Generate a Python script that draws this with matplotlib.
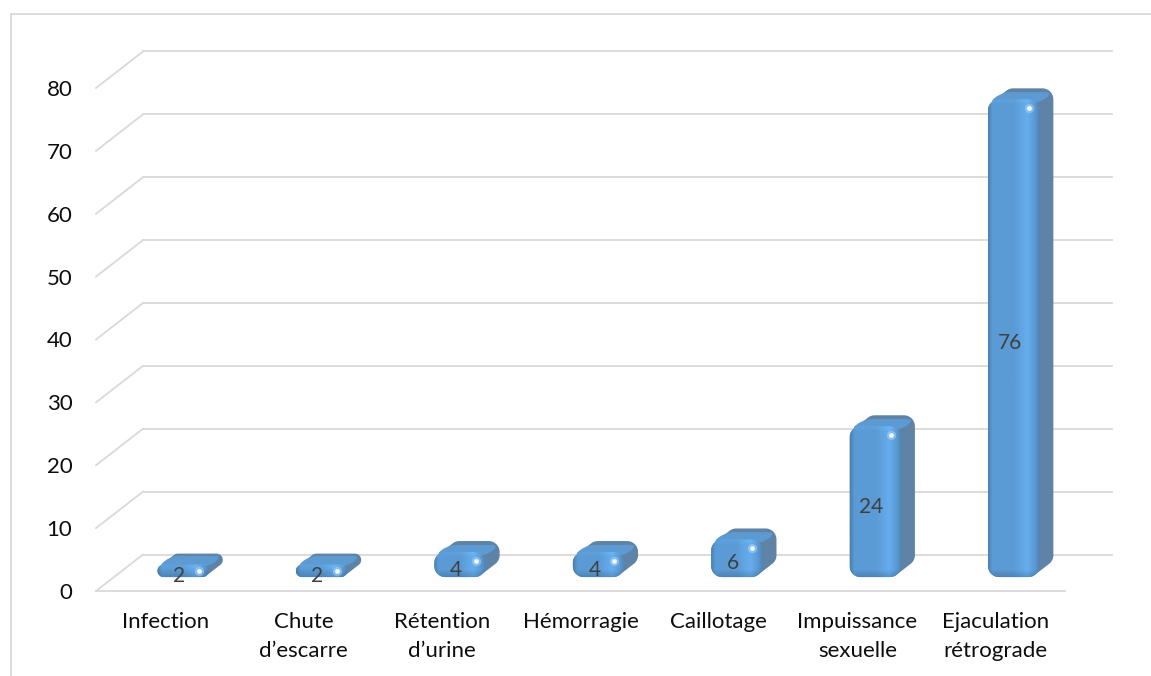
import numpy as np
import matplotlib.pyplot as plt
from matplotlib.patches import Polygon
from matplotlib.lines import Line2D
from matplotlib.colors import to_rgb

# Complications (%)
categories = ["Infection", "Chute\nd’escarre", "Rétention\nd’urine", "Hémorragie",
              "Caillotage", "Impuissance\nsexuelle", "Ejaculation\nrétrograde"]
values = [2, 2, 4, 4, 6, 24, 76]
y_ticks = [0, 10, 20, 30, 40, 50, 60, 70, 80]

plt.rcParams['font.family'] = ['Lato', 'DejaVu Sans']

W_PX, H_PX, DPI = 1151, 676, 100
fig = plt.figure(figsize=(W_PX / DPI, H_PX / DPI), dpi=DPI)

# front plane of the pseudo 3D plot, in pixels
left, right, bottom, top = 96, 1065, 591, 88
ax = fig.add_axes([left / W_PX, 1 - bottom / H_PX,
                   (right - left) / W_PX, (bottom - top) / H_PX])
n = len(categories)
ax.set_xlim(-0.5, n - 0.5)
ax.set_ylim(0, 80)
ax.patch.set_alpha(0)
for s in ax.spines.values():
    s.set_visible(False)

SX = (right - left) / n        # px per category
SY = (bottom - top) / 80       # px per unit
DEPTH_PX = np.hypot(47, 36.5)
DX = 47 / SX                   # depth offset, data units
DY = 36.5 / SY

grid_col = "#d9d9d9"
# back wall + left wall gridlines
for v in y_ticks:
    ax.plot([-0.5 + DX, n - 0.5 + DX], [v + DY, v + DY], color=grid_col, lw=1.3,
            clip_on=False, zorder=1)
    ax.plot([-0.5, -0.5 + DX], [v, v + DY], color=grid_col, lw=1.3, clip_on=False, zorder=1)
# floor front edge
ax.plot([-0.5, n - 0.5], [0, 0], color=grid_col, lw=1.3, clip_on=False, zorder=1)

ax.set_xticks(range(n), categories)
ax.set_yticks(y_ticks)
ax.tick_params(length=0, labelsize=16, colors="#0d0d0d")
ax.tick_params(axis="x", pad=15)
ax.tick_params(axis="y", pad=17)
for lab in ax.get_xticklabels():
    lab.set_linespacing(1.6)

# chart border
fig.add_artist(Line2D([11 / W_PX, 11 / W_PX], [0, 1 - 14 / H_PX], color=grid_col, lw=1.3))
fig.add_artist(Line2D([11 / W_PX, 1], [1 - 14 / H_PX, 1 - 14 / H_PX], color=grid_col, lw=1.3))


def rounded_pts(w, h, r, k=12):
    r = min(r, w / 2, h / 2)
    pts = []
    for cx, cy, a0 in [(w - r, h - r, 0), (r, h - r, 90), (r, r, 180), (w - r, r, 270)]:
        for t in np.radians(np.linspace(a0, a0 + 90, k)):
            pts.append((cx + r * np.cos(t), cy + r * np.sin(t)))
    return np.array(pts)


def hull(points):
    pts = sorted(map(tuple, points))

    def cross(o, a, b):
        return (a[0] - o[0]) * (b[1] - o[1]) - (a[1] - o[1]) * (b[0] - o[0])
    lower, upper = [], []
    for p in pts:
        while len(lower) >= 2 and cross(lower[-2], lower[-1], p) <= 0:
            lower.pop()
        lower.append(p)
    for p in reversed(pts):
        while len(upper) >= 2 and cross(upper[-2], upper[-1], p) <= 0:
            upper.pop()
        upper.append(p)
    return np.array(lower[:-1] + upper[:-1])


front_col = np.array(to_rgb("#5b9bd5"))
side_col = "#5f83a6"
top_col = "#5e9ad2"
z0, z1 = 0.38, 0.68
bar_w = 0.37
radius = 11

# horizontal shading profile of the front face
prof_x = [0.0, 0.08, 0.5, 0.76, 0.9, 1.0]
prof_f = [0.84, 1.0, 1.0, 1.12, 1.0, 0.86]

for i, v in enumerate(values):
    xl = i - bar_w / 2 + DX * z0
    yb = DY * z0
    w_px, h_px = bar_w * SX, v * SY
    base = rounded_pts(w_px, h_px, radius)
    front = np.column_stack([xl + base[:, 0] / SX, yb + base[:, 1] / SY])
    back = front + [DX * (z1 - z0), DY * (z1 - z0)]

    # extruded body (sides)
    body = hull(np.vstack([front, back]))
    ax.add_patch(Polygon(body, closed=True, fc=side_col, ec="none", zorder=3, clip_on=False))

    # top face, skewed along the depth direction
    d_px = (z1 - z0) * DEPTH_PX
    tf = rounded_pts(w_px, d_px, 8)
    u = tf[:, 0] / SX
    t = tf[:, 1] / DEPTH_PX
    top_y = yb + v - min(radius, h_px / 2) * 0.35 / SY
    top_pts = np.column_stack([xl + u + DX * t, top_y + DY * t])
    ax.add_patch(Polygon(top_pts, closed=True, fc=top_col, ec="none", zorder=3.5,
                         clip_on=False))

    # front face with shading, clipped to the rounded outline
    face = Polygon(front, closed=True, fc="none", ec="none", zorder=4)
    ax.add_patch(face)
    cols = max(int(w_px), 2)
    rows = max(int(h_px), 2)
    fx = np.interp(np.linspace(0, 1, cols), prof_x, prof_f)
    yy = np.arange(rows)[::-1]  # 0 at the bottom row
    fy = np.ones(rows)
    fy = np.where(yy < 7, 0.86 + 0.14 * yy / 7, fy)
    fy = np.where(yy > rows - 6, 1.0 + 0.06 * (yy - (rows - 6)) / 6, fy)
    img = np.clip(front_col[None, None, :] * fx[None, :, None] * fy[:, None, None], 0, 1)
    im = ax.imshow(img, extent=(xl, xl + bar_w, yb, yb + v), aspect="auto",
                   interpolation="bilinear", zorder=4)
    im.set_clip_path(face)

    # specular spot near top right corner
    sx = xl + (w_px - 10) / SX
    sy = yb + v - min(9, h_px / 2) / SY
    ax.scatter([sx], [sy], s=45, color="#a9d3f5", alpha=0.55, lw=0, zorder=5, clip_on=False)
    ax.scatter([sx], [sy], s=12, color="#f2f9ff", lw=0, zorder=5, clip_on=False)

    ax.text(i + DX * z0 - 4 / SX, yb + v / 2 - 5 / SY, str(v), ha="center", va="center",
            fontsize=15, color="#404040", zorder=6)

ax.set_xlim(-0.5, n - 0.5)
ax.set_ylim(0, 80)
fig.savefig("out.png", dpi=DPI)
